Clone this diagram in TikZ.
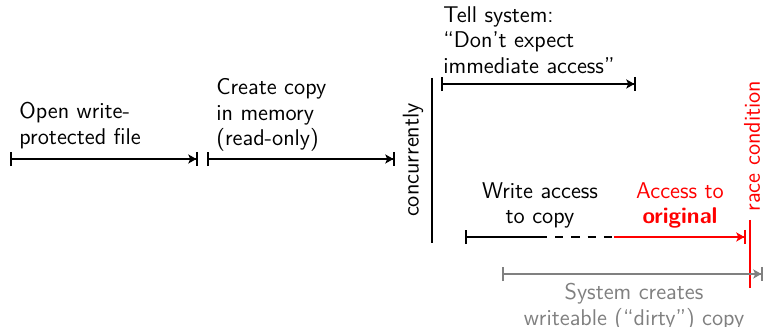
\documentclass[tikz,border=0pt]{standalone}
\usetikzlibrary{arrows.meta,positioning}

\begin{document}
\begin{tikzpicture}[x=0.01729cm, y=-0.01729cm,
    txt/.style={font=\sffamily\fontsize{11.2pt}{12.6pt}\selectfont, inner sep=0pt},
    span/.style={thick, {Bar[width=7pt]}-{Stealth[length=4pt,width=4.5pt,inset=1pt]Bar[width=7pt]}}]
    \useasboundingbox (0,0) rectangle (765,327);

    % sequential steps
    \coordinate (opens) at (10,159);
    \coordinate (opene) at (198,159);
    \coordinate (copys) at (207,159);
    \coordinate (copye) at (395,159);
    \draw[span] (opens) -- (opene);
    \draw[span] (copys) -- (copye);
    \node[txt, align=left, anchor=south west] (open) at (19,149) {Open write-\\protected file};
    \node[txt, align=left, anchor=south west] (copy) at (216,152) {Create copy\\in memory\\(read-only)};

    % fork
    \coordinate (forkt) at (432,78);
    \coordinate (forkb) at (432,243);
    \draw[thick] (forkt) -- (forkb);
    \node[txt, rotate=90] (conc) at (413,160) {concurrently};

    % upper branch
    \coordinate (tells) at (441,84);
    \coordinate (telle) at (636,84);
    \draw[span] (tells) -- (telle);
    \node[txt, align=left, anchor=south west] (tell) at (443,74) {Tell system:\\``Don't expect\\immediate access''};

    % lower branch
    \coordinate (wra) at (465,237);
    \coordinate (wrb) at (547,237);
    \coordinate (wrc) at (614,237);
    \coordinate (wrd) at (746,237);
    \draw[thick, {Bar[width=7pt]}-] (wra) -- (wrb);
    \draw[thick, dash pattern=on 4pt off 4pt, dash phase=4pt] (wrb) -- (wrc);
    \draw[thick, red, -{Stealth[length=4pt,width=4.5pt,inset=1pt]Bar[width=7pt]}] (wrc) -- (wrd);
    \node[txt, align=center, anchor=south] (write) at (540,229) {Write access\\to copy};
    \node[txt, align=center, anchor=south, red] (orig) at (680,229) {Access to\\\textbf{original}};

    % race
    \coordinate (racet) at (750,220);
    \coordinate (raceb) at (750,288);
    \draw[thick, red] (racet) -- (raceb);
    \node[txt, rotate=90, red] (race) at (752,146) {race condition};

    % system copy
    \coordinate (dirtys) at (502,274);
    \coordinate (dirtye) at (763,274);
    \draw[span, gray] (dirtys) -- (dirtye);
    \node[txt, align=center, anchor=north, gray] (dirty) at (634,283) {System creates\\writeable (``dirty'') copy};
\end{tikzpicture}
\end{document}
